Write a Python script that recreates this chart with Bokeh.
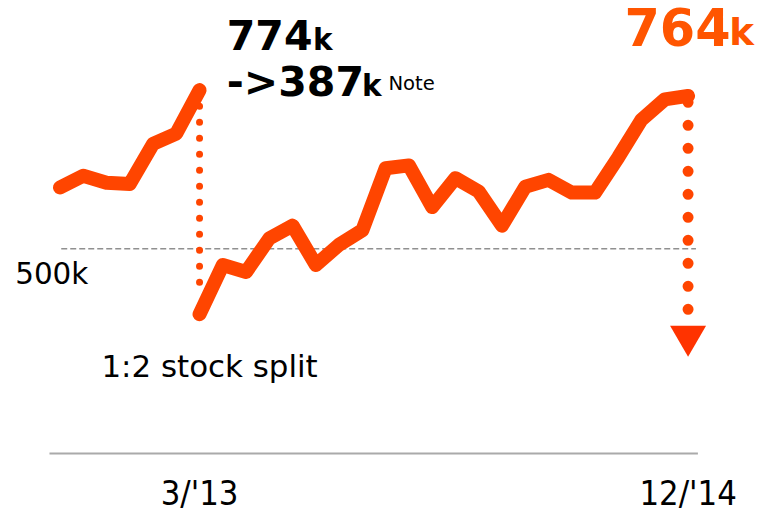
from bokeh.plotting import figure
from bokeh.models import Range1d, Label
from bokeh.embed import file_html
from bokeh.resources import INLINE

# ---- data (values in thousands of yen) ----
pre_split_x = [0, 1, 2, 3, 4, 5, 6]
pre_split_values = [606, 626, 614, 612, 681, 699, 774]
post_split_x = list(range(6, 28))
post_split_values = [387, 472, 460, 518, 540, 472, 507, 532, 639, 644, 572,
                     622, 599, 540, 607, 619, 597, 597, 658, 723, 758, 764]
tick_positions = [6, 27]
tick_labels = ["3/'13", "12/'14"]
reference_value = 500
reference_label = "500k"
split_before = "774"
split_after = "->387"
split_note = "1:2 stock split"
last_value_label = "764"

# layout: reference canvas 781x531 drawn into a 765x515 figure
RW, RH = 781, 531
W, H = 765, 515
SX, SY = W / RW, H / RH
X0_PX, PX_PER_MONTH = 60.7, 23.75     # reference pixels
REF_Y_PX, K_PER_PX = 256, 1.675
BASELINE_FIX = 0.38                   # em, alphabetic baseline correction

p = figure(width=W, height=H, output_backend="svg", toolbar_location=None,
           x_range=Range1d(-X0_PX / PX_PER_MONTH, (RW - X0_PX) / PX_PER_MONTH),
           y_range=Range1d(reference_value - (RH - REF_Y_PX) * K_PER_PX,
                           reference_value + REF_Y_PX * K_PER_PX),
           x_axis_location=None, y_axis_location=None, min_border=0)
p.grid.visible = False
p.outline_line_color = None
p.background_fill_color = "white"


def ref_value(py):
    return reference_value + (REF_Y_PX - py) * K_PER_PX


def ref_x(px):
    return (px - X0_PX) / PX_PER_MONTH


LINE = "#FF4500"

# baseline and reference line
p.segment(x0=[ref_x(50)], y0=[ref_value(467)], x1=[ref_x(712)], y1=[ref_value(467)],
          line_color="#aaaaaa", line_width=2)
p.segment(x0=[ref_x(62)], y0=[reference_value], x1=[ref_x(710)], y1=[reference_value],
          line_color="#909090", line_width=1.5, line_dash="6 3")

# dotted split connectors
p.segment(x0=[pre_split_x[-1]], y0=[pre_split_values[-1]], x1=[pre_split_x[-1]],
          y1=[ref_value(305)], line_color=LINE, line_width=7, line_dash="0 16",
          line_cap="round")
p.segment(x0=[post_split_x[-1]], y0=[ref_value(105)], x1=[post_split_x[-1]],
          y1=[ref_value(321)], line_color=LINE, line_width=11, line_dash="0 23",
          line_cap="round")
p.scatter(x=[post_split_x[-1]], y=[ref_value(346)], marker="inverted_triangle",
          size=36, fill_color="#FF3300", line_color=None)

# main series
for xs, ys in ((pre_split_x, pre_split_values), (post_split_x, post_split_values)):
    p.line(xs, ys, line_color=LINE, line_width=14, line_join="round", line_cap="round")


def lab(text, px, py, size, color="black", bold=False, align="left",
        font="DejaVu Sans"):
    fs = size * SX
    p.add_layout(Label(x=px * SX, y=H - py * SY + BASELINE_FIX * fs,
                       x_units="screen", y_units="screen",
                       text=text, text_font=font,
                       text_font_size=f"{fs:.1f}px",
                       text_font_style="bold" if bold else "normal",
                       text_color=color, text_align=align, text_baseline="alphabetic"))


lab(split_before, 231, 52, 42, bold=True)
lab("k", 319, 52, 30, bold=True)
lab(split_after, 231, 100, 42, bold=True)
lab("k", 369, 100, 30, bold=True)
lab("Note", 396, 93, 20)
lab(last_value_label, 637, 47, 52, color="#FF5500", bold=True)
lab("k", 744, 47, 38, color="#FF5500", bold=True)
lab(reference_label, 15, 293, 30)
lab(split_note, 103, 389, 31.5)

for t, s in zip(tick_positions, tick_labels):
    lab(s, X0_PX + t * PX_PER_MONTH, 521, 35, align="center",
        font="DejaVu Sans Condensed")

open("out.html", "w").write(file_html(p, INLINE))
